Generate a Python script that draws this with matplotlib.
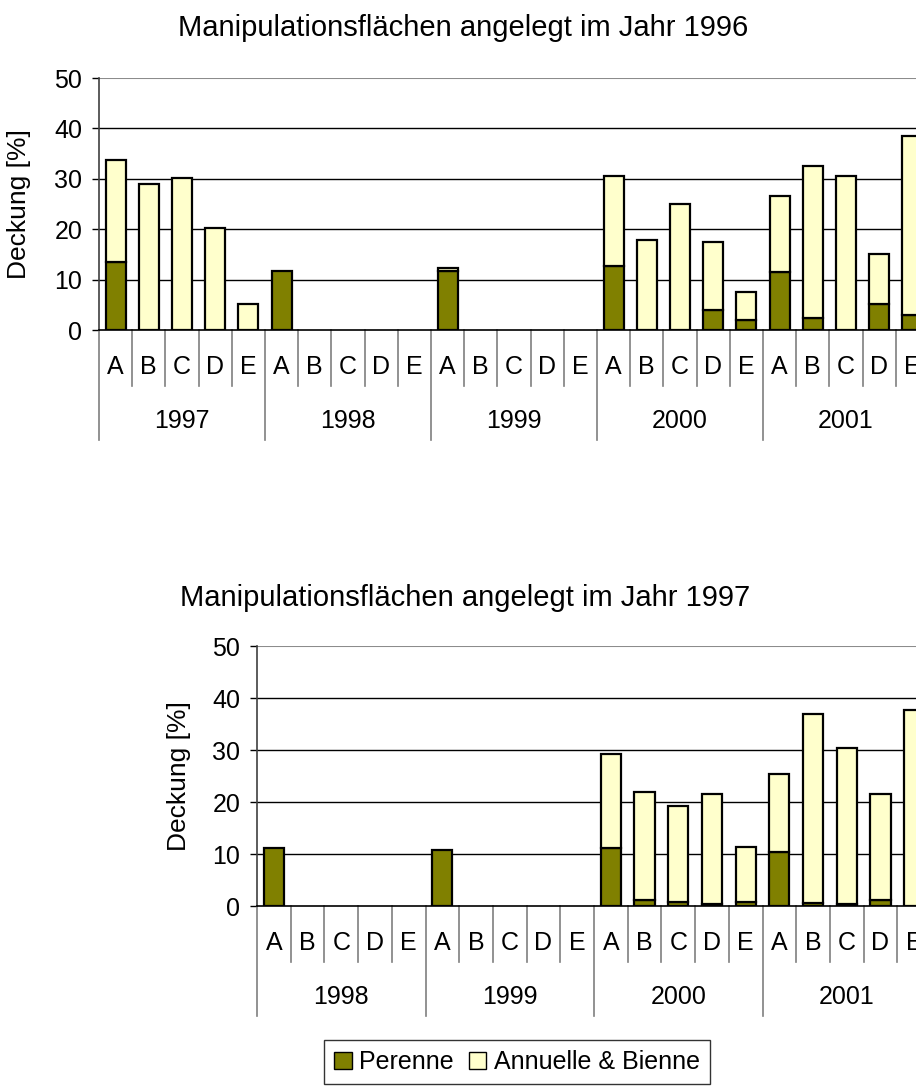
import numpy as np
import matplotlib as mpl
import matplotlib.pyplot as plt
from matplotlib.patches import Patch
from matplotlib.transforms import blended_transform_factory
mpl.use('Agg')

plt.rcParams['font.family'] = ['Liberation Sans', 'DejaVu Sans']

# Deckung [%] je Fläche A-E, gestapelt: Perenne unten, Annuelle & Bienne oben
buchstaben = ['A', 'B', 'C', 'D', 'E']

jahre_1996 = ['1997', '1998', '1999', '2000', '2001']
perenne_1996 = [13.4, 0, 0, 0, 0,
                11.8, 0, 0, 0, 0,
                11.8, 0, 0, 0, 0,
                12.6, 0, 0, 3.9, 1.9,
                11.5, 2.3, 0, 5.1, 3.0]
annuelle_1996 = [20.3, 29.0, 30.2, 20.2, 5.1,
                 0, 0, 0, 0, 0,
                 0.5, 0, 0, 0, 0,
                 17.9, 17.8, 25.0, 13.6, 5.6,
                 15.1, 30.2, 30.5, 9.9, 35.4]

jahre_1997 = ['1998', '1999', '2000', '2001']
perenne_1997 = [11.1, 0, 0, 0, 0,
                10.8, 0, 0, 0, 0,
                11.1, 1.2, 0.7, 0.3, 0.7,
                10.4, 0.6, 0.3, 1.2, 0]
annuelle_1997 = [0, 0, 0, 0, 0,
                 0, 0, 0, 0, 0,
                 18.1, 20.7, 18.5, 21.2, 10.7,
                 15.0, 36.3, 30.1, 20.3, 37.6]

farbe_per = '#808000'
farbe_ann = '#FFFFCC'

W, H = 916, 1086
fig = plt.figure(figsize=(W / 100, H / 100), dpi=100)


def zeichne(rect, jahre, perenne, annuelle, titel, titel_xy, ylabel_x):
    ax = fig.add_axes(rect)
    n = len(jahre) * len(buchstaben)
    x = np.arange(n)
    per = np.array(perenne, dtype=float)
    ann = np.array(annuelle, dtype=float)
    m = per > 0
    ax.bar(x[m], per[m], width=0.6, color=farbe_per, edgecolor='black', linewidth=1.6, zorder=3)
    m = ann > 0
    ax.bar(x[m], ann[m], bottom=per[m], width=0.6, color=farbe_ann, edgecolor='black', linewidth=1.6, zorder=3)

    ax.set_xlim(-0.5, n - 0.5)
    ax.set_ylim(0, 50)
    ax.set_yticks(range(0, 51, 10))
    for yv in range(10, 50, 10):
        ax.axhline(yv, color='black', lw=1, zorder=1)
    ax.axhline(50, color='#8c8c8c', lw=1.5, zorder=1)

    for s in ['top', 'right']:
        ax.spines[s].set_visible(False)
    ax.spines['left'].set_color('#404040')
    ax.spines['bottom'].set_color('black')
    ax.spines['left'].set_linewidth(1.2)
    ax.spines['bottom'].set_linewidth(1.2)
    ax.tick_params(axis='y', direction='out', length=5, width=1, pad=7, labelsize=18)

    # Buchstaben als Tick-Labels, Jahre darunter
    ax.set_xticks(x)
    ax.set_xticklabels(buchstaben * len(jahre), fontsize=18)
    ax.tick_params(axis='x', length=0, pad=18)

    hpx = rect[3] * H
    tr = blended_transform_factory(ax.transData, ax.transAxes)
    for i in range(n + 1):
        tief = 110 if i % 5 == 0 else 56
        ax.plot([i - 0.5, i - 0.5], [0, -tief / hpx], transform=tr,
                color='#7f7f7f', lw=1.2, clip_on=False)
    for j, jahr in enumerate(jahre):
        ax.text(j * 5 + 2, -91 / hpx, jahr, transform=tr, ha='center', va='center', fontsize=18)

    ax.set_ylabel('Deckung [%]', fontsize=19)
    ax.yaxis.set_label_coords(ylabel_x, 0.5, transform=blended_transform_factory(fig.transFigure, ax.transAxes))
    fig.text(titel_xy[0], titel_xy[1], titel, ha='center', va='center', fontsize=21)
    return ax


zeichne([99 / W, 1 - 330 / H, 830 / W, 252 / H], jahre_1996, perenne_1996, annuelle_1996,
        'Manipulationsflächen angelegt im Jahr 1996', (463 / W, 1 - 28 / H), 31 / W)
zeichne([257 / W, 1 - 906 / H, 674 / W, 260 / H], jahre_1997, perenne_1997, annuelle_1997,
        'Manipulationsflächen angelegt im Jahr 1997', (465 / W, 1 - 598 / H), 191 / W)

griffe = [Patch(facecolor=farbe_per, edgecolor='black', label='Perenne'),
          Patch(facecolor=farbe_ann, edgecolor='black', label='Annuelle & Bienne')]
leg = fig.legend(handles=griffe, loc='center', bbox_to_anchor=(517 / W, 1 - 1062 / H), ncol=2,
                 fontsize=18, frameon=True, fancybox=False, edgecolor='black',
                 handlelength=0.7, handleheight=0.7, handletextpad=0.3, columnspacing=0.6,
                 borderpad=0.4)
leg.get_frame().set_linewidth(1)

plt.savefig('out.png', dpi=100)
